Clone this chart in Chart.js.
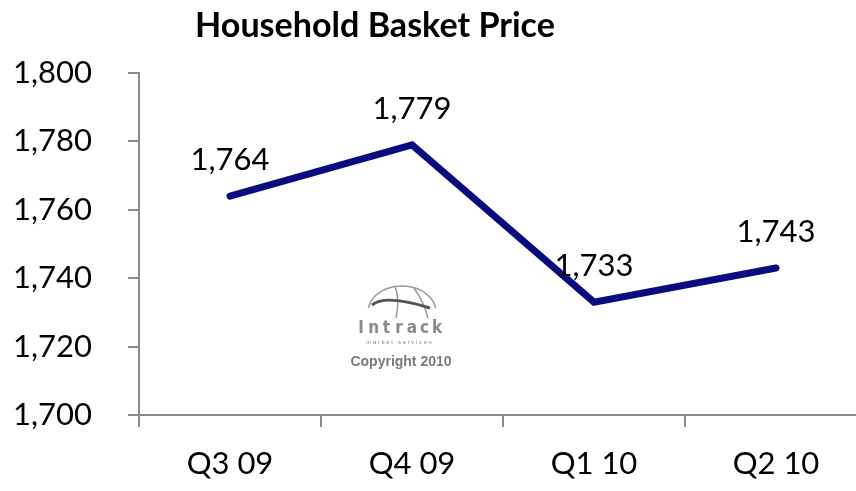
<!DOCTYPE html>
<html>
<head>
<meta charset="utf-8">
<script src="https://cdn.jsdelivr.net/npm/chart.js@4.4.0/dist/chart.umd.min.js"></script>
<style>
  html, body { margin: 0; padding: 0; background: #fff; }
  #wrap { width: 856px; height: 491px; overflow: hidden; position: relative; }
  #wrap canvas { position: absolute; left: 0; top: 0; }
</style>
</head>
<body>
<div id="wrap"><canvas id="priceChart" width="880" height="491"></canvas></div>
<script>
const quarters = ['Q3 09', 'Q4 09', 'Q1 10', 'Q2 10'];
const basketPrice = [1764, 1779, 1733, 1743];
const yMin = 1700;
const yMax = 1800;
const yStep = 20;

const chartTitle = 'Household Basket Price';
const mainFont = 'Lato, "Liberation Sans", sans-serif';
const axisGrey = '#8c8c8c';

const fmt = v => v.toLocaleString('en-US');

// title, value labels and the faint watermark
const extras = {
  id: 'extras',
  beforeDatasetsDraw(chart) {
    const ctx = chart.ctx;
    ctx.save();
    // little globe
    ctx.strokeStyle = '#9a9a9a';
    ctx.lineWidth = 1.5;
    ctx.beginPath();
    ctx.ellipse(402, 312, 34, 26, 0, Math.PI * 1.05, Math.PI * 1.95);
    ctx.stroke();
    ctx.beginPath();
    ctx.moveTo(395, 286);
    ctx.quadraticCurveTo(400, 300, 396, 318);
    ctx.stroke();
    ctx.beginPath();
    ctx.moveTo(414, 288);
    ctx.quadraticCurveTo(424, 302, 428, 318);
    ctx.stroke();
    ctx.strokeStyle = '#555';
    ctx.lineWidth = 3;
    ctx.beginPath();
    ctx.moveTo(372, 305);
    ctx.quadraticCurveTo(385, 294, 430, 308);
    ctx.stroke();

    ctx.fillStyle = '#8a8a8a';
    ctx.textAlign = 'center';
    ctx.textBaseline = 'middle';
    ctx.font = 'bold 17px "DejaVu Sans Condensed", "DejaVu Sans", sans-serif';
    const word = 'Intrack';
    for (let i = 0; i < word.length; i++) {
      ctx.fillText(word[i], 361 + i * 12.7, 329);
    }
    ctx.font = '6px "Liberation Sans", sans-serif';
    ctx.fillText('m a r k e t   s e r v i c e s', 399, 342);
    ctx.fillStyle = '#7a7a7a';
    ctx.font = 'bold 14px "Liberation Sans", Arial, sans-serif';
    ctx.fillText('Copyright 2010', 401, 362);
    ctx.restore();
  },
  afterDatasetsDraw(chart) {
    const ctx = chart.ctx;
    ctx.save();
    ctx.fillStyle = '#000';
    ctx.textAlign = 'center';
    ctx.textBaseline = 'alphabetic';
    ctx.font = '31px ' + mainFont;
    chart.getDatasetMeta(0).data.forEach((pt, i) => {
      ctx.fillText(fmt(basketPrice[i]), pt.x, pt.y - 26);
    });
    // title
    let size = 28;
    ctx.font = 'bold ' + size + 'px ' + mainFont;
    const w = ctx.measureText(chartTitle).width;
    size = size * 360 / w;
    ctx.font = 'bold ' + size.toFixed(1) + 'px ' + mainFont;
    ctx.fillText(chartTitle, 375, 37);
    ctx.restore();
  }
};

new Chart(document.getElementById('priceChart'), {
  type: 'line',
  data: {
    labels: quarters,
    datasets: [{
      data: basketPrice,
      borderColor: '#0b0b80',
      borderWidth: 7,
      borderCapStyle: 'round',
      borderJoinStyle: 'miter',
      tension: 0,
      pointRadius: 0,
      fill: false
    }]
  },
  options: {
    responsive: false,
    animation: false,
    layout: { padding: { top: 73, right: 13, left: 0, bottom: 0 } },
    plugins: {
      legend: { display: false },
      tooltip: { enabled: false }
    },
    scales: {
      x: {
        offset: true,
        grid: {
          offset: true,
          drawOnChartArea: false,
          tickLength: 12,
          color: axisGrey,
          lineWidth: 2
        },
        border: { color: axisGrey, width: 2 },
        ticks: {
          color: '#000',
          font: { family: mainFont, size: 31 },
          padding: 18
        },
        afterFit(scale) { scale.height = 76; }
      },
      y: {
        min: yMin,
        max: yMax,
        grid: {
          drawOnChartArea: false,
          tickLength: 11,
          color: axisGrey,
          lineWidth: 2
        },
        border: { color: axisGrey, width: 2 },
        ticks: {
          stepSize: yStep,
          color: '#000',
          font: { family: mainFont, size: 31 },
          padding: 36,
          callback: v => fmt(v)
        },
        afterFit(scale) { scale.width = 139; }
      }
    }
  },
  plugins: [extras]
});
</script>
</body>
</html>
